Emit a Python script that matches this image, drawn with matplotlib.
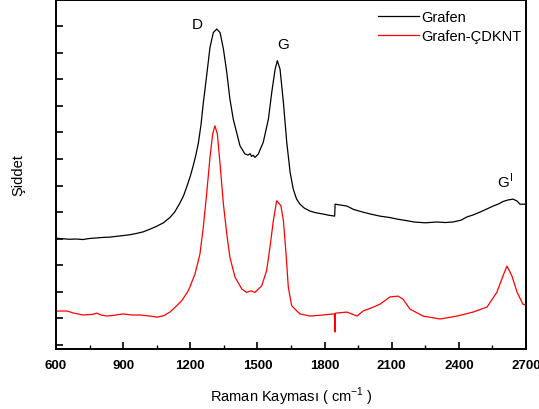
"""
Raman spektrumu: Grafen ve Grafen-ÇDKNT
"""

import matplotlib
matplotlib.use("Agg")
import matplotlib.pyplot as plt
from matplotlib.ticker import MultipleLocator

plt.rcParams['font.family'] = ['Liberation Sans', 'DejaVu Sans']
plt.rcParams['mathtext.fontset'] = 'custom'
plt.rcParams['mathtext.rm'] = 'Liberation Sans'
plt.rcParams['mathtext.sf'] = 'Liberation Sans'

# Grafen spectrum (Raman shift in cm-1, offset intensity)
grafen_shift = [600, 630, 660, 690, 720, 750, 780, 810, 840, 870, 900, 930, 960,
                990, 1020, 1050, 1080, 1109, 1130, 1154, 1170, 1184, 1200, 1213,
                1225, 1236, 1248, 1258, 1273, 1288, 1303, 1318, 1333, 1348, 1363,
                1377, 1392, 1407, 1422, 1444, 1458, 1467, 1474, 1481, 1489, 1504,
                1526, 1549, 1564, 1579, 1589, 1601, 1616, 1631, 1646, 1660, 1675,
                1690, 1710, 1735, 1760, 1793, 1815, 1838, 1845, 1847, 1870, 1900,
                1930, 1972, 2010, 2048, 2090, 2124, 2160, 2200, 2250, 2302, 2340,
                2374, 2410, 2436, 2465, 2494, 2525, 2553, 2580, 2597, 2620, 2642,
                2660, 2673, 2700]
grafen_int = [4.02, 4.00, 3.98, 3.99, 3.97, 4.01, 4.03, 4.05, 4.06, 4.09, 4.12, 4.15, 4.20,
              4.26, 4.36, 4.47, 4.60, 4.80, 5.00, 5.35, 5.62, 5.95, 6.35, 6.75,
              7.15, 7.60, 8.30, 9.10, 10.13, 11.20, 11.76, 11.89, 11.76, 11.14, 10.26,
              9.26, 8.50, 8.00, 7.50, 7.19, 7.15, 7.20, 7.10, 7.14, 7.06, 7.19,
              7.63, 8.50, 9.51, 10.38, 10.70, 10.38, 9.13, 7.63, 6.50, 5.87, 5.49,
              5.30, 5.15, 5.04, 4.98, 4.93, 4.89, 4.86, 4.85, 5.30, 5.27, 5.23,
              5.10, 5.00, 4.92, 4.85, 4.80, 4.74, 4.69, 4.63, 4.60, 4.63, 4.61,
              4.63, 4.70, 4.82, 4.90, 5.00, 5.12, 5.23, 5.32, 5.40, 5.46, 5.49,
              5.42, 5.30, 5.30]

# Grafen-ÇDKNT spectrum
cdknt_shift = [600, 649, 680, 721, 760, 783, 801, 828, 860, 899, 940, 975, 1020,
               1051, 1080, 1109, 1132, 1162, 1191, 1221, 1243, 1258, 1273, 1288,
               1300, 1310, 1321, 1333, 1348, 1363, 1377, 1400, 1430, 1452, 1471,
               1489, 1519, 1541, 1556, 1571, 1586, 1605, 1616, 1628, 1638, 1653,
               1675, 1690, 1735, 1793, 1838, 1844, 1846, 1848, 1850, 1900, 1945,
               1972, 2010, 2048, 2092, 2128, 2150, 2182, 2240, 2316, 2392, 2463,
               2526, 2570, 2597, 2615, 2637, 2660, 2686, 2700]
cdknt_int = [1.28, 1.28, 1.20, 1.13, 1.15, 1.20, 1.13, 1.09, 1.12, 1.17, 1.13, 1.13, 1.09,
             1.05, 1.10, 1.24, 1.42, 1.67, 2.04, 2.67, 3.42, 4.43, 5.68, 7.06,
             7.94, 8.25, 7.94, 6.81, 5.30, 4.18, 3.30, 2.55, 2.11, 1.98, 2.04,
             1.98, 2.23, 2.80, 3.68, 4.68, 5.43, 5.24, 4.68, 3.42, 2.17, 1.48,
             1.29, 1.17, 1.09, 1.13, 1.17, 1.17, 0.49, 1.20, 1.20, 1.24, 1.09,
             1.28, 1.40, 1.54, 1.81, 1.84, 1.73, 1.35, 1.09, 0.98, 1.09, 1.24,
             1.43, 1.99, 2.60, 2.97, 2.60, 1.99, 1.54, 1.50]

fig = plt.figure(figsize=(5.39, 4.10), dpi=100)
ax = fig.add_axes([0.1039, 0.1463, 0.872, 0.851])

ax.plot(grafen_shift, grafen_int, color='black', lw=0.9, label='Grafen')
ax.plot(cdknt_shift, cdknt_int, color='#ff0000', lw=0.9, label='Grafen-ÇDKNT')

ax.set_xlim(600, 2700)
ax.set_ylim(-0.15, 12.98)
ax.xaxis.set_major_locator(MultipleLocator(300))
ax.xaxis.set_minor_locator(MultipleLocator(150))
ax.yaxis.set_major_locator(MultipleLocator(1))
ax.tick_params(axis='x', which='major', direction='in', length=5, width=1.2,
               labelsize=9.5, pad=7)
ax.tick_params(axis='x', which='minor', direction='in', length=3, width=1.0)
ax.tick_params(axis='y', which='major', direction='in', length=5, width=1.2,
               labelleft=False)
for lbl in ax.get_xticklabels():
    lbl.set_fontweight('bold')
for sp in ax.spines.values():
    sp.set_linewidth(1.4)

ax.set_xlabel('Raman Kayması ( cm$^{\\mathsf{-1}}$ )', fontsize=10.5, labelpad=10)
ax.set_ylabel('Şiddet', fontsize=10.5, labelpad=22)

ax.text(1230, 12.08, 'D', fontsize=11, ha='center', va='center')
ax.text(1614, 11.32, 'G', fontsize=11, ha='center', va='center')
ax.text(2606, 6.2, 'G$^{\\mathsf{I}}$', fontsize=11, ha='center', va='center')

ax.legend(loc='upper right', bbox_to_anchor=(1.018, 1.01), frameon=False,
          fontsize=10.5, handlelength=2.8, handletextpad=0.15,
          labelspacing=0.35)

fig.savefig('out.png', dpi=100)
